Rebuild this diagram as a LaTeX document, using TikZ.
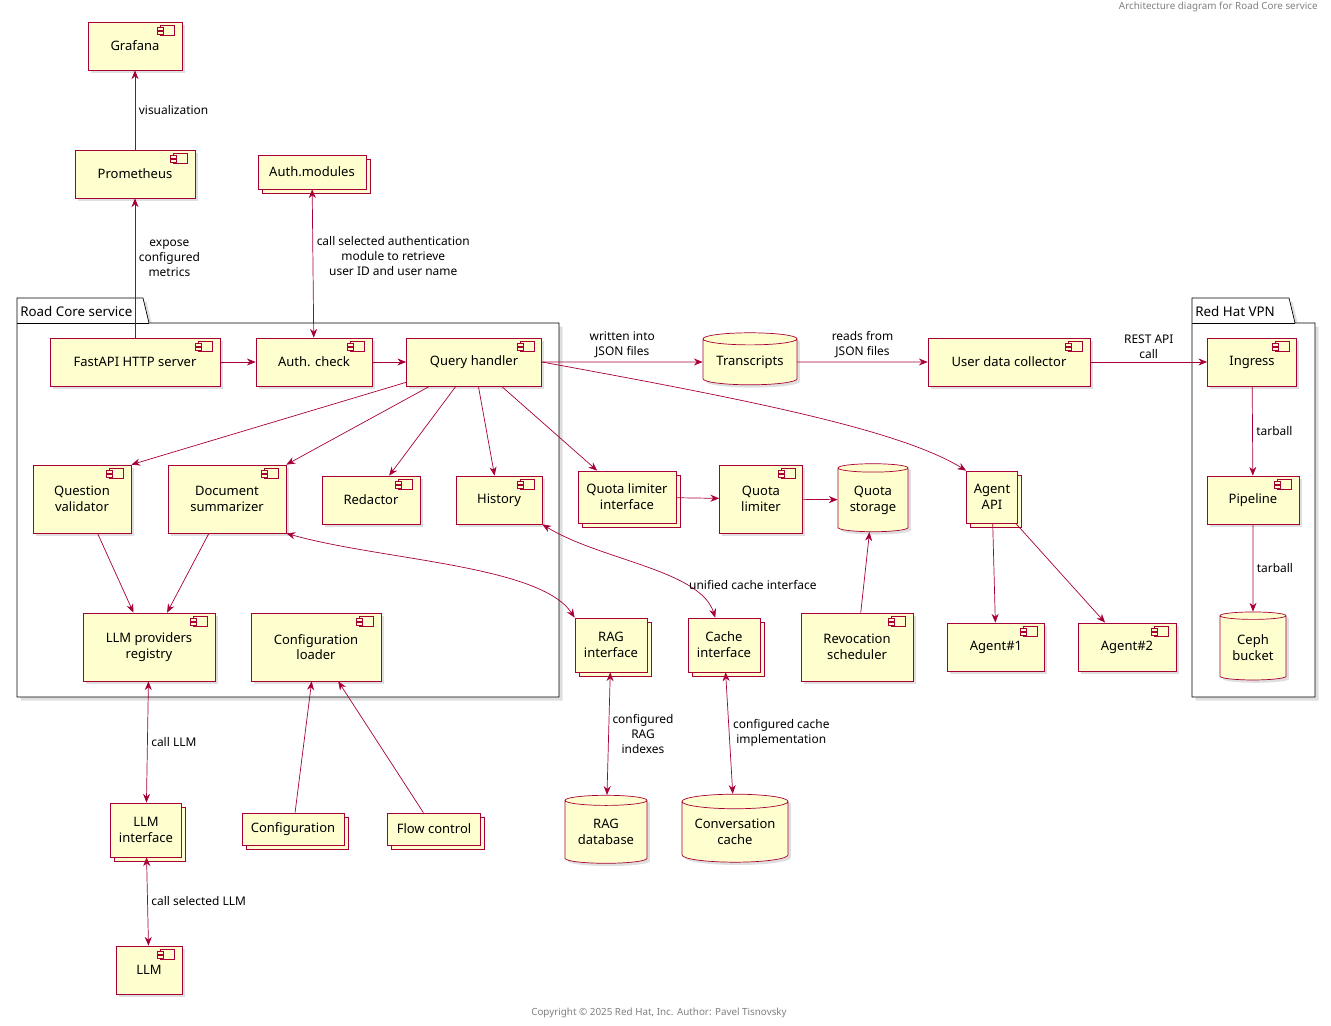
\documentclass[tikz,border=0pt]{standalone}
\usepackage{fontspec}
\setmainfont{Noto Sans}
\usetikzlibrary{shapes.geometric,shadows,calc,arrows.meta}
\definecolor{umlfill}{HTML}{FEFECE}
\definecolor{umlline}{HTML}{A80036}
\tikzset{box/.style 2 args={minimum width=#1*0.02cm,minimum height=#2*0.02cm},
comp/.style={draw=umlline,fill=umlfill,inner sep=0pt,align=center,font=\fontsize{7.4}{9}\selectfont,
  drop shadow={shadow xshift=1.6pt,shadow yshift=-1.6pt,opacity=0.25}},
coll/.style={draw=umlline,fill=umlfill,inner sep=0pt,align=center,font=\fontsize{7.4}{9}\selectfont,
  copy shadow={shadow xshift=2.3pt,shadow yshift=-2.3pt}},
store/.style={comp,cylinder,shape border rotate=90,aspect=0.18},
pkg/.style={draw=black,fill=white,drop shadow={shadow xshift=2pt,shadow yshift=-2pt,opacity=0.25}},
link/.style={draw=umlline,-{Stealth[length=5pt,width=4pt]}},
twoway/.style={draw=umlline,{Stealth[length=5pt,width=4pt]}-{Stealth[length=5pt,width=4pt]}},
lbl/.style={font=\fontsize{6.8}{8.5}\selectfont,align=center,inner sep=2pt}}
\begin{document}
\begin{tikzpicture}[x=0.02cm,y=-0.02cm]
\useasboundingbox (0,0) rectangle (1331,1026);

%% title and footer
\node [font=\fontsize{5.6}{7}\selectfont,text=gray,anchor=north east,inner sep=0pt] (title) at (1318,2) {Architecture diagram for Road Core service};
\node [font=\fontsize{5.6}{7}\selectfont,text=gray,inner sep=0pt] (footer) at (659,1013) {Copyright © 2025 Red Hat, Inc. Author: Pavel Tisnovsky};

%% packages
\draw [pkg] (17,298) -- (143,298) -- (149,323) -- (559,323) -- (559,697) -- (17,697) -- cycle;
\draw (17,323) -- (149,323);
\node [anchor=west,font=\bfseries\fontsize{7.6}{9}\selectfont,inner sep=0pt] (rcslabel) at (20,311) {Road Core service};
\draw [pkg] (1192,298) -- (1289,298) -- (1295,323) -- (1315,323) -- (1315,697) -- (1192,697) -- cycle;
\draw (1192,323) -- (1295,323);
\node [anchor=west,font=\bfseries\fontsize{7.6}{9}\selectfont,inner sep=0pt] (vpnlabel) at (1195,311) {Red Hat VPN};

%% components
\node [comp,box={94}{48}] (graf) at (135,46) {Grafana};
\node [comp,box={120}{48}] (prom) at (135,174) {Prometheus};
\node [coll,box={108}{34}] (authm) at (312,172) {Auth.modules};
\node [comp,box={170}{48}] (fast) at (135,362) {FastAPI HTTP server};
\node [comp,box={116}{48}] (authc) at (314,362) {Auth. check};
\node [comp,box={135}{48}] (qh) at (474,362) {Query handler};
\node [store,box={94}{52}] (trans) at (750,362) {Transcripts};
\node [comp,box={162}{48}] (udc) at (1009,362) {User data collector};
\node [comp,box={89}{48}] (ing) at (1252,362) {Ingress};
\node [comp,box={92}{48}] (pipe) at (1253,500) {Pipeline};
\node [store,box={66}{68}] (ceph) at (1253,648) {Ceph\\bucket};
\node [comp,box={98}{68}] (qv) at (82,499) {Question\\validator};
\node [comp,box={118}{68}] (ds) at (227,499) {Document\\summarizer};
\node [comp,box={98}{48}] (red) at (371,500) {Redactor};
\node [comp,box={86}{48}] (hist) at (499,500) {History};
\node [coll,box={98}{52}] (qli) at (627,497) {Quota limiter\\interface};
\node [comp,box={83}{68}] (ql) at (761,499) {Quota\\limiter};
\node [store,box={70}{68}] (qs) at (873,500) {Quota\\storage};
\node [coll,box={51}{52}] (agapi) at (992,497) {Agent\\API};
\node [comp,box={132}{68}] (llmr) at (149,647) {LLM providers\\registry};
\node [comp,box={130}{68}] (cfgl) at (316,647) {Configuration\\loader};
\node [coll,box={72}{54}] (ragi) at (611,645) {RAG\\interface};
\node [coll,box={72}{54}] (cachei) at (724,645) {Cache\\interface};
\node [comp,box={112}{68}] (rev) at (857,647) {Revocation\\scheduler};
\node [comp,box={97}{48}] (ag1) at (996,647) {Agent\#1};
\node [comp,box={98}{48}] (ag2) at (1127,647) {Agent\#2};
\node [coll,box={71}{54}] (llmi) at (146,830) {LLM\\interface};
\node [coll,box={102}{32}] (cfg) at (293,829) {Configuration};
\node [coll,box={93}{32}] (flow) at (434,829) {Flow control};
\node [store,box={82}{68}] (ragdb) at (606,832) {RAG\\database};
\node [store,box={106}{68}] (conv) at (735,832) {Conversation\\cache};
\node [comp,box={66}{48}] (llm) at (149,970) {LLM};

%% component icons
\foreach \n in {graf,prom,fast,authc,qh,udc,ing,pipe,qv,ds,red,hist,ql,rev,ag1,ag2,llmr,cfgl,llm}{
  \draw [umlline,fill=umlfill] ($(\n.north east)+(-22,4)$) rectangle ($(\n.north east)+(-8,14)$);
  \draw [umlline,fill=umlfill] ($(\n.north east)+(-25,6)$) rectangle ($(\n.north east)+(-19,8.5)$);
  \draw [umlline,fill=umlfill] ($(\n.north east)+(-25,10)$) rectangle ($(\n.north east)+(-19,12.5)$);
}

%% connectors
\draw [link] (prom) -- node [lbl,right] {visualization} (graf);
\draw [link] (fast) -- node [lbl,right,pos=0.57] {expose\\configured\\metrics} (prom);
\draw [twoway] (authm) -- node [lbl,right,pos=0.45] {call selected authentication\\module to retrieve\\user ID and user name} (authc);
\draw [link] (fast) -- (authc);
\draw [link] (authc) -- (qh);
\draw [link] (qh) -- node [lbl,above,pos=0.5] {written into\\JSON files} (trans);
\draw [link] (trans) -- node [lbl,above] {reads from\\JSON files} (udc);
\draw [link] (udc) -- node [lbl,above] {REST API\\call} (ing);
\draw [link] (ing) -- node [lbl,right] {tarball} (pipe);
\draw [link] (pipe) -- node [lbl,right] {tarball} (ceph);
\draw [link] (qh) -- (qv.north east);
\draw [link] (qh) -- (ds.north east);
\draw [link] (qh) -- (red);
\draw [link] (qh) -- (hist);
\draw [link] (qh) -- (qli);
\draw [link] (qh.east) .. controls (750,400) and (900,430) .. (agapi.north west);
\draw [link] (qv) -- (llmr);
\draw [link] (ds) -- (llmr);
\draw [twoway] (ds.south east) .. controls (380,560) and (540,565) .. (ragi.north west);
\draw [twoway] (hist.south east) .. controls (600,560) and (700,570) .. node [lbl,pos=0.72,right] {unified cache interface} (cachei);
\draw [link] (qli) -- (ql);
\draw [link] (ql) -- (qs);
\draw [link] (rev) -- (qs);
\draw [link] (agapi) -- (ag1);
\draw [link] (agapi) -- (ag2);
\draw [twoway] (llmr) -- node [lbl,right] {call LLM} (llmi);
\draw [twoway] (llmi) -- node [lbl,right] {call selected LLM} (llm);
\draw [link] (cfg) -- (cfgl);
\draw [link] (flow) -- (cfgl);
\draw [twoway] (ragi) -- node [lbl,right] {configured\\RAG\\indexes} (ragdb);
\draw [twoway] (cachei) -- node [lbl,right] {configured cache\\implementation} (conv);

\end{tikzpicture}
\end{document}
